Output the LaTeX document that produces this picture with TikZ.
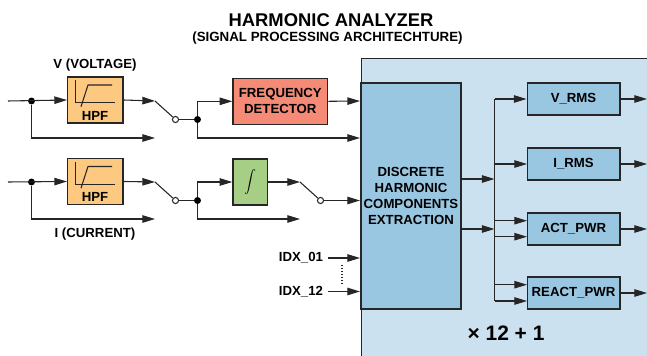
\documentclass[tikz,border=0pt]{standalone}
\usepackage{fontspec}
\setmainfont{Liberation Sans}
\usepackage{amsmath, amssymb}
\usetikzlibrary{%
	arrows.meta,
	positioning,
	calc
}
\definecolor{hpfcol}{HTML}{FDC981}
\definecolor{freqcol}{HTML}{F58B76}
\definecolor{intcol}{HTML}{A6CF85}
\definecolor{blockcol}{HTML}{99C6E0}
\definecolor{panelcol}{HTML}{CBE1EF}
\definecolor{inkcol}{HTML}{262626}
\tikzstyle{block} = [draw = inkcol, line width = 1pt, inner sep = 0pt, text = black, align = center, font = \bfseries\fontsize{9.9}{12}\selectfont]
\tikzstyle{hpf} = [block, fill = hpfcol, minimum width = 41.5pt, minimum height = 34.5pt]
\tikzstyle{output} = [block, fill = blockcol, minimum width = 69.5pt, minimum height = 24pt]
\tikzstyle{tag} = [inner sep = 0pt, text = black, align = center, font = \bfseries\fontsize{9.9}{12}\selectfont]
\tikzstyle{line} = [draw = inkcol, line width = 0.8pt, -{Triangle[length=9.5pt,width=5.6pt]}]
\tikzstyle{wire} = [draw = inkcol, line width = 0.8pt]
\tikzstyle{joint} = [circle, fill = black, inner sep = 0pt, minimum size = 5.2pt]
\tikzstyle{contact} = [circle, draw = inkcol, fill = white, line width = 0.8pt, inner sep = 0pt, minimum size = 4.6pt]
\begin{document}
\begin{tikzpicture}[x=0.75pt,y=-0.75pt]
	\clip (0,0) rectangle (647,356);
	
	% Panel and the big block
	\node[block, fill = panelcol, anchor = north west, minimum width = 240pt, minimum height = 240pt] (panel) at (361,58) {};
	\node[block, fill = blockcol, minimum width = 75pt, minimum height = 169.5pt] (extract) at (411,196) {DISCRETE\\HARMONIC\\COMPONENTS\\EXTRACTION};
	
	% Titles
	\node[inner sep = 0pt, font = \bfseries\fontsize{13.8}{16}\selectfont] (title) at (331,20) {HARMONIC ANALYZER};
	\node[inner sep = 0pt, font = \bfseries\fontsize{10}{12}\selectfont] (subtitle) at (327.5,38) {(SIGNAL PROCESSING ARCHITECHTURE)};
	
	% Filters with their sketch
	\foreach \name/\ypos in {hpfv/100, hpfi/181.5}{
		\node[hpf] (\name) at (95.3,\ypos) {};
		\node[tag] (\name text) at (95,\ypos+15.8) {HPF};
		\draw[wire] (75.3,\ypos-19.5) -- (75.3,\ypos+2.7) -- (115,\ypos+2.7);
		\draw[wire] (81,\ypos+6.7) -- (88,\ypos-15) -- (112,\ypos-15);
	}
	
	% The other blocks
	\node[block, fill = freqcol, minimum width = 71pt, minimum height = 34.5pt] (freq) at (280.3,101.3) {FREQUENCY\\DETECTOR};
	\node[block, fill = intcol, minimum width = 26pt, minimum height = 34.5pt] (integ) at (250.3,182) {\fontsize{8.5}{10}\selectfont$\displaystyle\int$};
	\foreach \pos/\name/\word in {
		(573.5,99)/vrms/V\_RMS,
		(573.5,164)/irms/I\_RMS,
		(573.5,229)/actpwr/ACT\_PWR,
		(573.5,293)/reactpwr/REACT\_PWR}
	\node[output] (\name) at \pos {\word};
	
	% Labels
	\foreach \pos/\name/\word in {
		(95,65)/vlabel/V (VOLTAGE),
		(95,234)/ilabel/I (CURRENT),
		(301,258)/idxa/IDX\_01,
		(301,291.5)/idxb/IDX\_12}
	\node[tag] (\name) at \pos {\word};
	\node[inner sep = 0pt, font = \bfseries\fontsize{15.7}{18}\selectfont] (count) at (506,333) {× 12 + 1};
	
	% Joints and contacts
	\foreach \pos/\name in {(31.5,101)/jva, (31.5,182)/jia, (197.5,119.5)/jvb, (197.5,200.5)/jib}
	\node[joint] (\name) at \pos {};
	\foreach \pos/\name in {(175.5,119.5)/cv, (175.5,200.5)/ci, (320.5,200.5)/cz}
	\node[contact] (\name) at \pos {};
	
	% Free ends
	\foreach \pos/\name in {
		(8,101)/vin, (8,182)/iin,
		(155,101)/vhp, (155,138)/vraw,
		(155,182)/ihp, (155,219)/iraw,
		(300,182)/zhp, (300,219)/zraw,
		(360,101)/xa, (360,138)/xb, (360,200.5)/xc,
		(494.5,179)/busa, (494.5,229)/busb,
		(494.5,99)/bustop, (494.5,301)/busend,
		(461,179)/outa, (461,229)/outb,
		(494.5,164)/tapb, (494.5,220.7)/tapc, (494.5,236.7)/tapd, (494.5,284.7)/tape,
		(527,164)/inb, (527,220.7)/inc, (527,236.7)/ind, (527,284.7)/ine, (527,301)/inf,
		(647,99)/ovrms, (647,164)/oirms, (647,229)/oact, (647,293)/oreact,
		(328,258)/idxaout, (360,258)/idxain, (328,291.5)/idxbout, (360,291.5)/idxbin,
		(342,265)/dota, (342,284)/dotb}
	\node[coordinate] (\name) at \pos {};
	
	% Wires with an arrow
	\foreach \source/ \dest in {
		vin/hpfv.west, iin/hpfi.west,
		hpfv.east/vhp, hpfi.east/ihp,
		integ.east/zhp, freq.east/xa, cz/xc,
		outa/busa, outb/busb,
		irms.east/oirms, vrms.east/ovrms, actpwr.east/oact, reactpwr.east/oreact,
		tapb/inb, tapc/inc, tapd/ind, tape/ine,
		idxaout/idxain, idxbout/idxbin,
		busend/inf, bustop/vrms.west}
	\path[line] (\source) -- (\dest);
	
	% Wires with a bend and an arrow
	\path[line] (jva) |- (vraw);
	\path[line] (jia) |- (iraw);
	\path[line] (jvb) |- (freq.west);
	\path[line] (jib) |- (integ.west);
	\path[line] (jvb) |- (xb);
	\path[line] (jib) |- (zraw);
	
	% Plain wires
	\foreach \source/ \dest in {vhp/cv, ihp/ci, zhp/cz, cv/jvb, ci/jib, bustop/busend}
	\path[wire] (\source) -- (\dest);
	
	\draw[wire, line width = 1.1pt, dash pattern = on 1.1pt off 1.1pt] (dota) -- (dotb);
	
\end{tikzpicture}
\end{document}
